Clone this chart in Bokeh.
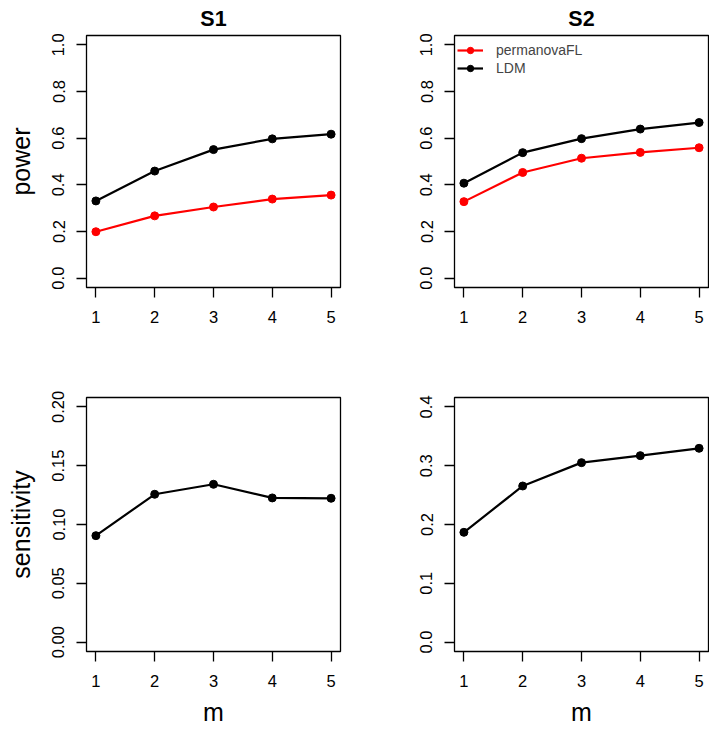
from bokeh.plotting import figure
from bokeh.layouts import column, row
from bokeh.models import Range1d, FixedTicker, Legend, LegendItem
from bokeh.embed import file_html
from bokeh.resources import INLINE

# ---------------- data ----------------
m_values = [1, 2, 3, 4, 5]
s1_power_permanovaFL = [0.199, 0.267, 0.305, 0.339, 0.356]
s1_power_LDM = [0.331, 0.459, 0.551, 0.597, 0.617]
s2_power_permanovaFL = [0.328, 0.453, 0.514, 0.539, 0.559]
s2_power_LDM = [0.407, 0.538, 0.598, 0.639, 0.667]
s1_sensitivity_LDM = [0.0905, 0.1257, 0.1342, 0.1226, 0.1223]
s2_sensitivity_LDM = [0.1867, 0.2655, 0.3052, 0.3171, 0.3296]

x_ticks = [1, 2, 3, 4, 5]
x_tick_labels = ["1", "2", "3", "4", "5"]
power_ticks = [0, 0.2, 0.4, 0.6, 0.8, 1]
power_tick_labels = ["0.0", "0.2", "0.4", "0.6", "0.8", "1.0"]
sens1_ticks = [0, 0.05, 0.1, 0.15, 0.2]
sens1_tick_labels = ["0.00", "0.05", "0.10", "0.15", "0.20"]
sens2_ticks = [0, 0.1, 0.2, 0.3, 0.4]
sens2_tick_labels = ["0.0", "0.1", "0.2", "0.3", "0.4"]

RED = "#FF0000"
BLACK = "#000000"
FONT = "Liberation Sans"


def pad_range(lo, hi):
    d = (hi - lo) * 0.04
    return Range1d(lo - d, hi + d)


def make_fig(width, height, bl, br, bt, bb, yticks, ylabels, ylab=None, xlab=None, title=None):
    p = figure(width=width, height=height, output_backend="svg", toolbar_location=None,
               min_border_left=bl, min_border_right=br, min_border_top=bt, min_border_bottom=bb,
               x_range=pad_range(min(x_ticks), max(x_ticks)),
               y_range=pad_range(min(yticks), max(yticks)),
               tools="")
    p.grid.visible = False
    p.outline_line_color = "black"
    p.outline_line_width = 1.3
    p.background_fill_color = "white"
    p.border_fill_color = "white"
    for ax in (p.xaxis[0], p.yaxis[0]):
        ax.axis_line_color = None
        ax.major_tick_out = 10
        ax.major_tick_in = 0
        ax.major_tick_line_color = "black"
        ax.major_tick_line_width = 1.3
        ax.minor_tick_line_color = None
        ax.major_label_text_font = FONT
        ax.major_label_text_font_size = "16.5px"
        ax.major_label_text_color = "black"
        ax.axis_label_text_font = FONT
        ax.axis_label_text_font_size = "25px"
        ax.axis_label_text_font_style = "normal"
        ax.axis_label_text_color = "black"
    p.xaxis.ticker = FixedTicker(ticks=x_ticks)
    p.xaxis.major_label_overrides = {t: l for t, l in zip(x_ticks, x_tick_labels)}
    p.xaxis.major_label_standoff = 13
    p.yaxis.ticker = FixedTicker(ticks=yticks)
    p.yaxis.major_label_overrides = {t: l for t, l in zip(yticks, ylabels)}
    p.yaxis.major_label_orientation = "vertical"
    p.yaxis.major_label_standoff = 12
    if ylab:
        p.yaxis.axis_label = ylab
        p.yaxis.axis_label_standoff = 15
    if xlab:
        p.xaxis.axis_label = xlab
        p.xaxis.axis_label_standoff = 8
    if title:
        p.title.text = title
        p.title.align = "center"
        p.title.text_font = FONT
        p.title.text_font_size = "21.5px"
        p.title.text_font_style = "bold"
        p.title.text_color = "black"
        p.title.standoff = 9
    return p


def add_series(p, y, color):
    ln = p.line(m_values, y, line_color=color, line_width=2.2)
    pt = p.scatter(m_values, y, marker="circle", size=8, fill_color=color, line_color=color)
    return ln, pt


# top-left: S1 power
p1 = make_fig(360, 360, 86, 20, 33, 73, power_ticks, power_tick_labels, ylab="power", title="S1")
add_series(p1, s1_power_LDM, BLACK)
add_series(p1, s1_power_permanovaFL, RED)

# top-right: S2 power
p2 = make_fig(349, 360, 94, 1, 33, 73, power_ticks, power_tick_labels, title="S2")
l_ldm, s_ldm = add_series(p2, s2_power_LDM, BLACK)
l_perm, s_perm = add_series(p2, s2_power_permanovaFL, RED)
legend = Legend(items=[LegendItem(label="permanovaFL", renderers=[l_perm, s_perm]),
                       LegendItem(label="LDM", renderers=[l_ldm, s_ldm])],
                location=(3, 211), margin=0, padding=0, spacing=2,
                glyph_width=26, glyph_height=16, label_standoff=13,
                label_text_font=FONT, label_text_font_size="14px",
                border_line_color=None, background_fill_alpha=0)
p2.add_layout(legend)

# bottom-left: S1 sensitivity
p3 = make_fig(360, 370, 86, 20, 37, 79, sens1_ticks, sens1_tick_labels, ylab="sensitivity", xlab="m")
add_series(p3, s1_sensitivity_LDM, BLACK)

# bottom-right: S2 sensitivity
p4 = make_fig(349, 370, 94, 1, 37, 79, sens2_ticks, sens2_tick_labels, xlab="m")
add_series(p4, s2_sensitivity_LDM, BLACK)

layout = column(row(p1, p2, spacing=0), row(p3, p4, spacing=0), spacing=0)

open("out.html", "w").write(file_html(layout, INLINE))
